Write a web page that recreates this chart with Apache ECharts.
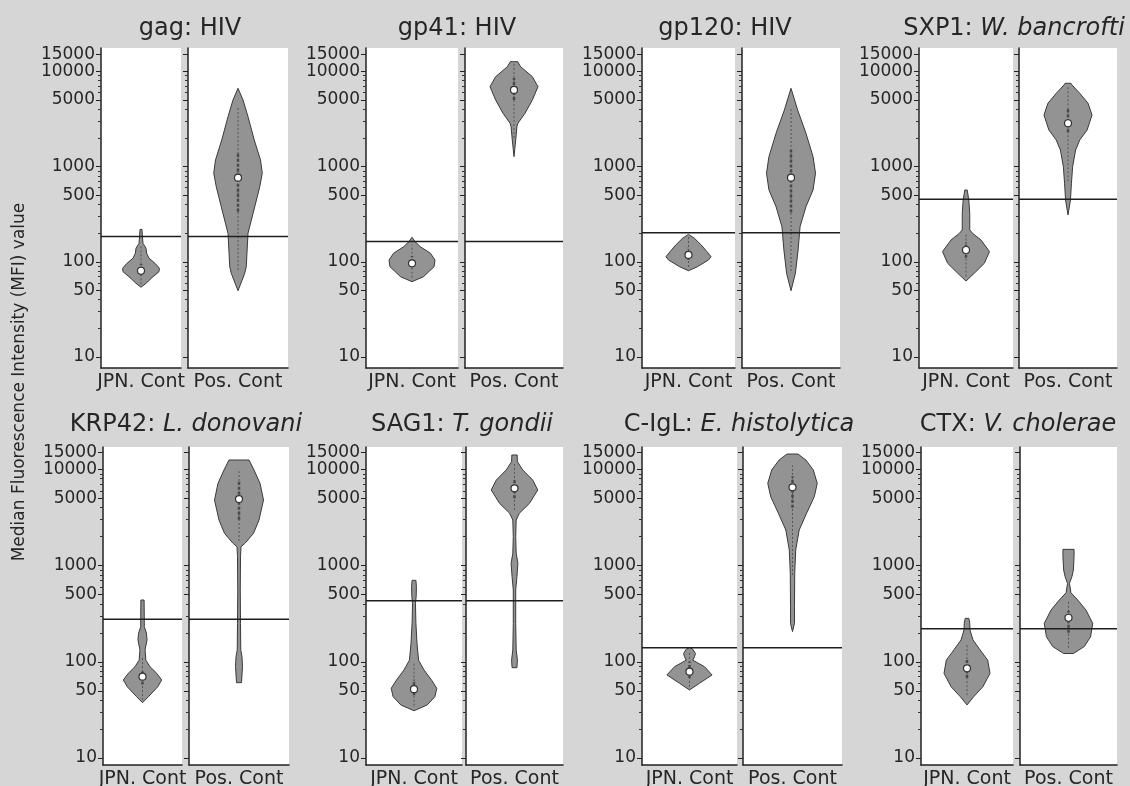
<!DOCTYPE html>
<html>
<head>
<meta charset="utf-8">
<script src="https://cdn.jsdelivr.net/npm/echarts@6/dist/echarts.min.js"></script>
<style>
  html, body { margin: 0; padding: 0; background: #d6d6d6; }
  #chart { width: 1130px; height: 786px; }
</style>
</head>
<body>
<div id="chart"></div>
<script>
// ---- Data ----
const antigens = ['gag', 'gp41', 'gp120', 'SXP1', 'KRP42', 'SAG1', 'C-IgL', 'CTX'];
const organisms = ['HIV', 'HIV', 'HIV', 'W. bancrofti', 'L. donovani', 'T. gondii', 'E. histolytica', 'V. cholerae'];
const italicOrganism = [false, false, false, true, true, true, true, true];
const groups = ['JPN. Cont', 'Pos. Cont'];
const yTickValues = [10, 50, 100, 500, 1000, 5000, 10000, 15000];
const yMinorValues = [20, 30, 40, 60, 70, 80, 90, 200, 300, 400, 600, 700, 800, 900,
  2000, 3000, 4000, 6000, 7000, 8000, 9000];

// positivity cut-off (MFI) for each antigen
const cutoffs = [184, 163, 202, 454, 277, 431, 140, 221];

// violin outlines: [MFI, relative density]
const gagJpn = [[54, 0], [59.4, .25], [69.7, .6], [78.7, .9], [85.5, .92], [96.4, .7], [109, .4], [123, .28], [139, .25], [156, .1], [184, .07], [219, .05]];
const gagPos = [[49.7, 0], [75.7, .27], [88.9, .33], [199, .4], [379, .67], [615, .87], [851, .97], [1173, .9], [1902, .65], [3342, .4], [5010, .2], [6640, 0]];
const gp41Jpn = [[61.8, 0], [69.7, .5], [88.9, .96], [104.5, 1.0], [123, .8], [144, .36], [163, .13], [181, 0]];
const gp41Pos = [[1271, 0], [1902, .07], [2624, .12], [2850, .16], [3630, .45], [5010, .75], [6905, .98], [8790, .75], [11200, .27], [12640, .15]];
const gp120Jpn = [[80.5, 0], [88.9, .39], [104.5, .86], [113, .97], [128, .79], [150, .55], [177, .25], [194, 0]];
const gp120Pos = [[49.7, 0], [75.7, .18], [133, .29], [234, .37], [379, .61], [568, .9], [851, 1.0], [1271, .9], [2240, .61], [3936, .27], [6640, 0]];
const sxp1Jpn = [[62.8, 0], [75.7, .35], [96.4, .78], [128, 1.0], [169, .64], [199, .28], [216, .16], [323, .16], [446, .12], [568, .05]];
const sxp1Pos = [[310, 0], [446, .1], [668, .14], [998, .19], [1493, .31], [1902, .48], [2421, .78], [3480, .98], [4620, .82], [5890, .48], [7200, .16], [7500, .12]];
const krp42Jpn = [[37.6, 0], [43.4, .3], [55, .77], [64.7, .97], [75.9, .72], [89, .38], [104, .17], [133, .13], [169, .23], [198, .2], [232, .09], [294, .09], [439, .08]];
const krp42Pos = [[60.7, .1], [89, .14], [113, .12], [133, .07], [251, .06], [557, .05], [1239, .06], [1572, .08], [1705, .24], [2168, .58], [2980, .8], [4810, .98], [7170, .84], [9870, .6], [12530, .4]];
const sag1Jpn = [[31, 0], [35.6, .55], [43.4, .87], [53, .95], [64.7, .73], [82, .42], [104, .19], [156, .125], [251, .08], [405, .06], [475, .09], [604, .1], [703, .08]];
const sag1Pos = [[86.9, .1], [104, .12], [133, .07], [251, .05], [557, .05], [767, .1], [1057, .14], [1342, .07], [1997, .05], [2980, .07], [3500, .2], [4450, .62], [6110, .96], [7760, .75], [9870, .34], [12030, .12], [14120, .11]];
const cIglJpn = [[51, 0], [59.8, .42], [73, .95], [89, .63], [104, .14], [113, .21], [122, .25], [135, .14], [141, 0]];
const cIglPos = [[206, 0], [251, .08], [374, .08], [832, .09], [1452, .13], [2344, .27], [3500, .57], [5200, .88], [7170, 1.0], [9870, .84], [12530, .54], [14460, .22]];
const ctxJpn = [[35.6, 0], [43.4, .29], [55, .69], [75.9, 1.0], [104, .9], [133, .57], [169, .26], [214, .13], [251, .12], [283, .08]];
const ctxPos = [[122, .2], [144, .65], [182, .91], [251, 1.0], [345, .72], [439, .38], [522, .1], [655, .04], [767, .14], [900, .2], [1239, .23], [1476, .23]];

const profilesJpn = [gagJpn, gp41Jpn, gp120Jpn, sxp1Jpn, krp42Jpn, sag1Jpn, cIglJpn, ctxJpn];
const profilesPos = [gagPos, gp41Pos, gp120Pos, sxp1Pos, krp42Pos, sag1Pos, cIglPos, ctxPos];

// box-plot summaries
const medianJpn = [80.5, 96.4, 118, 133, 70, 52, 79, 85.5];
const medianPos = [765, 6380, 765, 2850, 4920, 6360, 6520, 287];
const iqrJpn = [[72, 95], [88, 115], [105, 135], [110, 160], [58, 80], [45, 65], [68, 100], [68, 105]];
const iqrPos = [[336, 1380], [5000, 8500], [330, 1500], [2300, 4000], [3000, 7500], [5000, 8000], [4000, 8500], [200, 340]];
const whiskerJpn = [[58, 150], [68, 150], [88, 185], [70, 200], [40, 110], [35, 100], [55, 125], [45, 150]];
const whiskerPos = [[82, 4256], [2000, 12000], [80, 4000], [700, 7000], [1800, 10000], [3800, 12000], [800, 11000], [140, 430]];

// ---- Layout ----
const FONT = 'DejaVu Sans';
const INK = '#262626';
const rows = [
  { top: 48, height: 320, min: 7.66, max: 17600, titleY: 29 },
  { top: 447, height: 318, min: 8.46, max: 17100, titleY: 425 }
];
// [left, width] of the JPN and Pos sub-plots in each panel
const subplotX = [
  [[101, 80], [188, 100]], [[366, 92], [465, 98]], [[642, 93], [742, 98]], [[919, 94], [1019, 98]],
  [[103, 79], [189, 100]], [[366, 96], [466, 97]], [[642, 95], [743, 99]], [[921, 92], [1020, 97]]
];
const titleX = [190, 457, 725, 1014, 186, 462, 739, 1018];

// the two closely spaced top labels go on separate axes so neither is dropped
const lowerLabels = yTickValues.slice(0, -1);
const topLabel = yTickValues.slice(-1);

function violinRenderer(profile, median, iqr, whisker, cutoff) {
  return function (params, api) {
    const cs = params.coordSys;
    const band = api.size([1, 1])[0];
    const half = band * 0.25;
    const cx = api.coord([0, median])[0];
    const yAt = v => api.coord([0, v])[1];
    const left = [], right = [];
    profile.forEach(([v, d]) => {
      const y = yAt(v);
      left.push([cx - d * half, y]);
      right.push([cx + d * half, y]);
    });
    const pts = left.concat(right.reverse());
    return {
      type: 'group',
      children: [
        { type: 'polygon', shape: { points: pts }, style: { fill: '#939393', stroke: '#3a3a3a', lineWidth: 1 } },
        { type: 'line', shape: { x1: cx, y1: yAt(whisker[0]), x2: cx, y2: yAt(whisker[1]) },
          style: { stroke: '#555', lineWidth: 1, lineDash: [2, 2] } },
        { type: 'line', shape: { x1: cx, y1: yAt(iqr[0]), x2: cx, y2: yAt(iqr[1]) },
          style: { stroke: '#4a4a4a', lineWidth: 2.5, lineDash: [3, 2] } },
        { type: 'line', shape: { x1: cs.x, y1: yAt(cutoff), x2: cs.x + cs.width, y2: yAt(cutoff) },
          style: { stroke: '#1e1e1e', lineWidth: 1.5 } },
        { type: 'circle', shape: { cx: cx, cy: yAt(median), r: 3.5 },
          style: { fill: '#ffffff', stroke: '#333', lineWidth: 1.2 } }
      ]
    };
  };
}

const grid = [], xAxis = [], yAxis = [], series = [], graphic = [];
const axisLineStyle = { color: '#222', width: 1.5 };
const labelStyle = { color: INK, fontFamily: FONT, fontSize: 17, margin: 6, hideOverlap: false,
  formatter: v => String(v) };

antigens.forEach((name, p) => {
  const row = rows[p < 4 ? 0 : 1];
  groups.forEach((grp, g) => {
    const gi = p * 2 + g;
    const [left, width] = subplotX[p][g];
    grid.push({ left: left, top: row.top, width: width, height: row.height,
      show: true, backgroundColor: '#ffffff', borderWidth: 0,
      containLabel: false, outerBoundsMode: 'none' });
    xAxis.push({
      gridIndex: gi, type: 'category', data: [grp],
      axisTick: { show: false },
      axisLine: { lineStyle: axisLineStyle },
      axisLabel: { interval: 0, color: INK, fontFamily: FONT, fontSize: 19, margin: 5 },
      splitLine: { show: false }
    });
    // axis line, major ticks and lower labels
    yAxis.push({
      gridIndex: gi, type: 'log', logBase: 10, min: row.min, max: row.max, position: 'left', offset: 0,
      axisLine: { show: true, lineStyle: axisLineStyle },
      axisTick: { show: true, length: 5, customValues: yTickValues, lineStyle: { color: '#222', width: 1 } },
      axisLabel: Object.assign({ show: g === 0, customValues: lowerLabels }, labelStyle),
      splitLine: { show: false }
    });
    // minor ticks and the top label
    yAxis.push({
      gridIndex: gi, type: 'log', logBase: 10, min: row.min, max: row.max, position: 'left', offset: 0,
      axisLine: { show: false },
      axisTick: { show: true, length: 3, customValues: yMinorValues, lineStyle: { color: '#333', width: 1 } },
      axisLabel: Object.assign({ show: g === 0, customValues: topLabel }, labelStyle),
      splitLine: { show: false }
    });
    const jpn = g === 0;
    series.push({
      type: 'custom', xAxisIndex: gi, yAxisIndex: gi * 2, silent: true, clip: false,
      data: [[0, jpn ? medianJpn[p] : medianPos[p]]],
      renderItem: violinRenderer(
        jpn ? profilesJpn[p] : profilesPos[p],
        jpn ? medianJpn[p] : medianPos[p],
        jpn ? iqrJpn[p] : iqrPos[p],
        jpn ? whiskerJpn[p] : whiskerPos[p],
        cutoffs[p])
    });
  });
  graphic.push({
    type: 'text', x: titleX[p], y: row.titleY, silent: true,
    style: {
      text: '{n|' + name + ': }{o|' + organisms[p] + '}',
      align: 'center', verticalAlign: 'middle', textAlign: 'center', textVerticalAlign: 'middle',
      fontFamily: FONT, fontSize: 24, fill: INK,
      rich: {
        n: { fontFamily: FONT, fontSize: 24, fill: INK, color: INK },
        o: { fontFamily: FONT, fontSize: 24, fill: INK, color: INK, fontStyle: italicOrganism[p] ? 'italic' : 'normal' }
      }
    }
  });
});

graphic.push({
  type: 'text', x: 20, y: 382, rotation: Math.PI / 2, silent: true,
  style: {
    text: 'Median Fluorescence Intensity (MFI) value',
    align: 'center', verticalAlign: 'middle', textAlign: 'center', textVerticalAlign: 'middle',
    fontFamily: FONT, fontSize: 17, fill: INK
  }
});

const chart = echarts.init(document.getElementById('chart'), null, { renderer: 'canvas' });
chart.setOption({
  backgroundColor: '#d6d6d6',
  animation: false,
  textStyle: { fontFamily: FONT },
  grid, xAxis, yAxis, series, graphic
});
</script>
</body>
</html>
